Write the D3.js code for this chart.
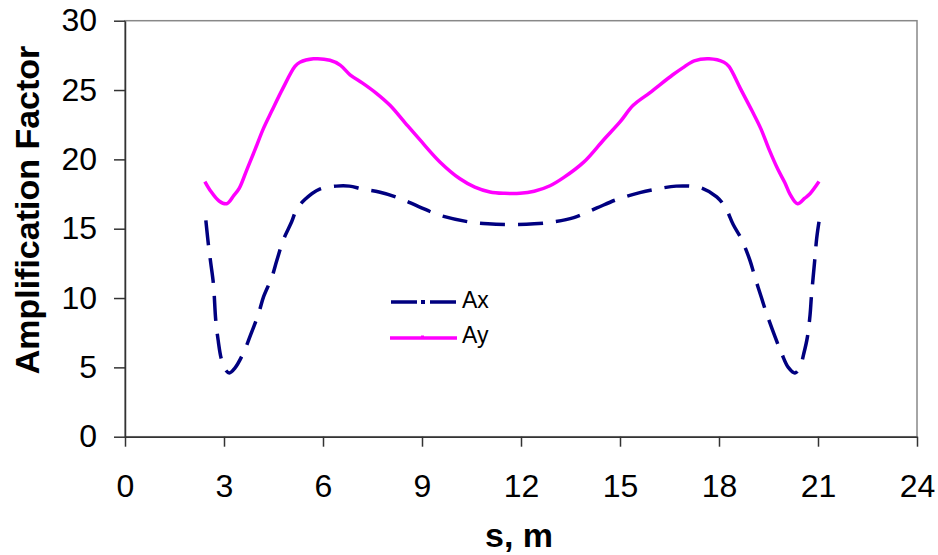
<!DOCTYPE html>
<html>
<head>
<meta charset="utf-8">
<script src="https://cdn.jsdelivr.net/npm/d3@7"></script>
<style>
  html, body { margin: 0; padding: 0; background: #fff; }
  svg { display: block; font-family: "Liberation Sans", Arial, sans-serif; }
</style>
</head>
<body>
<svg id="chart" width="938" height="555"></svg>
<script>
// ---- data ----
const xTicks = [0, 3, 6, 9, 12, 15, 18, 21, 24];
const yTicks = [0, 5, 10, 15, 20, 25, 30];

const sAx = [2.45, 2.53, 2.6, 2.68, 2.75, 2.82, 2.92, 3.05, 3.16, 3.33, 3.6, 3.8, 4.05, 4.2, 4.45, 4.6, 4.8, 5.05, 5.2, 5.45, 5.9, 6.4, 6.8, 7.2, 7.7, 8.2, 8.9, 9.5, 10.4, 11.0, 11.7, 12.4, 13.0, 13.6, 14.3, 14.9, 15.6, 16.2, 16.7, 17.1, 17.45, 17.93, 18.2, 18.43, 18.69, 18.94, 19.09, 19.29, 19.44, 19.7, 19.9, 20.1, 20.3, 20.45, 20.57, 20.68, 20.76, 20.8, 20.9, 20.96, 21.03];
const Ax  = [15.6, 13.8, 12.5, 11.0, 8.4, 7.0, 5.6, 4.8, 4.6, 4.95, 6.1, 7.3, 8.9, 10.1, 11.5, 12.7, 14.2, 15.5, 16.4, 17.1, 17.85, 18.07, 18.07, 17.85, 17.65, 17.3, 16.6, 16.0, 15.5, 15.35, 15.3, 15.35, 15.5, 15.8, 16.5, 17.1, 17.6, 17.9, 18.07, 18.07, 17.95, 17.3, 16.5, 15.3, 14.2, 12.7, 11.5, 10.0, 8.9, 7.2, 6.0, 5.0, 4.6, 5.0, 6.0, 7.2, 8.8, 10.1, 12.7, 14.3, 15.5];

const sAy = [2.42, 2.6, 2.85, 3.08, 3.3, 3.46, 3.7, 3.94, 4.19, 4.45, 4.78, 5.15, 5.3, 5.71, 6.21, 6.52, 6.82, 7.2, 7.6, 8.03, 8.5, 8.94, 9.55, 10.15, 10.6, 11.06, 11.5, 11.97, 12.4, 12.88, 13.3, 13.9, 14.5, 15.0, 15.4, 15.9, 16.6, 16.9, 17.25, 17.7, 18.15, 18.3, 18.65, 19.0, 19.27, 19.52, 19.78, 20.0, 20.15, 20.38, 20.6, 20.75, 21.03];
const Ay  = [18.4, 17.7, 17.0, 16.8, 17.4, 17.9, 19.3, 20.7, 22.2, 23.5, 25.1, 26.7, 27.0, 27.25, 27.15, 26.8, 26.1, 25.5, 24.8, 23.9, 22.6, 21.4, 19.8, 18.6, 18.0, 17.65, 17.55, 17.55, 17.7, 18.1, 18.7, 19.8, 21.4, 22.7, 23.9, 24.8, 26.1, 26.6, 27.1, 27.25, 27.0, 26.7, 25.1, 23.5, 22.2, 20.7, 19.3, 18.3, 17.5, 16.8, 17.2, 17.5, 18.4];

const seriesNames = ["Ax", "Ay"];

// ---- layout ----
const svg = d3.select("#chart");
const L = 125, R = 917, T = 20.7, B = 436.7;
const x = d3.scaleLinear().domain([0, 24]).range([L, R]);
const y = d3.scaleLinear().domain([0, 30]).range([B, T]);

// plot border (top / right in gray)
svg.append("rect").attr("x", L).attr("y", T).attr("width", R - L).attr("height", B - T)
  .attr("fill", "none").attr("stroke", "#888").attr("stroke-width", 1.5);

// axes
const xAxis = svg.append("g").attr("transform", `translate(0,${B})`)
  .call(d3.axisBottom(x).tickValues(xTicks).tickSize(10).tickPadding(27.6).tickSizeOuter(0));
const yAxis = svg.append("g").attr("transform", `translate(${L},0)`)
  .call(d3.axisLeft(y).tickValues(yTicks).tickSize(11).tickPadding(17).tickSizeOuter(0));
[xAxis, yAxis].forEach(g => {
  g.select(".domain").attr("stroke", "#333").attr("stroke-width", 1.5);
  g.selectAll(".tick line").attr("stroke", "#333").attr("stroke-width", 1.5);
  g.selectAll(".tick text").attr("fill", "#000")
    .style("font-family", '"Liberation Sans", Arial, sans-serif').style("font-size", "32px");
});

// titles
svg.append("text").attr("x", (L + R) / 2 - 2).attr("y", 547)
  .attr("text-anchor", "middle").style("font-weight", "bold").style("font-size", "34px")
  .text("s, m");
svg.append("text").attr("transform", "translate(39,210) rotate(-90)")
  .attr("text-anchor", "middle").style("font-weight", "bold").style("font-size", "34px")
  .text("Amplification Factor");

// lines
const line = d3.line().x(d => x(d[0])).y(d => y(d[1])).curve(d3.curveCatmullRom.alpha(0.5));
const axData = sAx.map((s, i) => [s, Ax[i]]);
const ayData = sAy.map((s, i) => [s, Ay[i]]);

svg.append("path").datum(ayData).attr("d", line)
  .attr("fill", "none").attr("stroke", "#FF00FF").attr("stroke-width", 3.5)
  .attr("stroke-linejoin", "round");
svg.append("path").datum(axData).attr("d", line)
  .attr("fill", "none").attr("stroke", "#000080").attr("stroke-width", 3.5)
  .attr("stroke-dasharray", "25,13");

// legend
const lg = svg.append("g");
lg.append("line").attr("x1", 391).attr("x2", 456).attr("y1", 302).attr("y2", 302)
  .attr("stroke", "#000080").attr("stroke-width", 3.5).attr("stroke-dasharray", "26,13");
lg.append("rect").attr("x", 421).attr("y", 300).attr("width", 4).attr("height", 4).attr("fill", "#000080");
lg.append("text").attr("x", 462).attr("y", 307.5).style("font-size", "23px").text(seriesNames[0]);
lg.append("line").attr("x1", 390).attr("x2", 457).attr("y1", 338).attr("y2", 338)
  .attr("stroke", "#FF00FF").attr("stroke-width", 3.5);
lg.append("rect").attr("x", 421).attr("y", 335.5).attr("width", 3).attr("height", 3).attr("fill", "#FF00FF");
lg.append("text").attr("x", 462).attr("y", 343).style("font-size", "23px").text(seriesNames[1]);
</script>
</body>
</html>
